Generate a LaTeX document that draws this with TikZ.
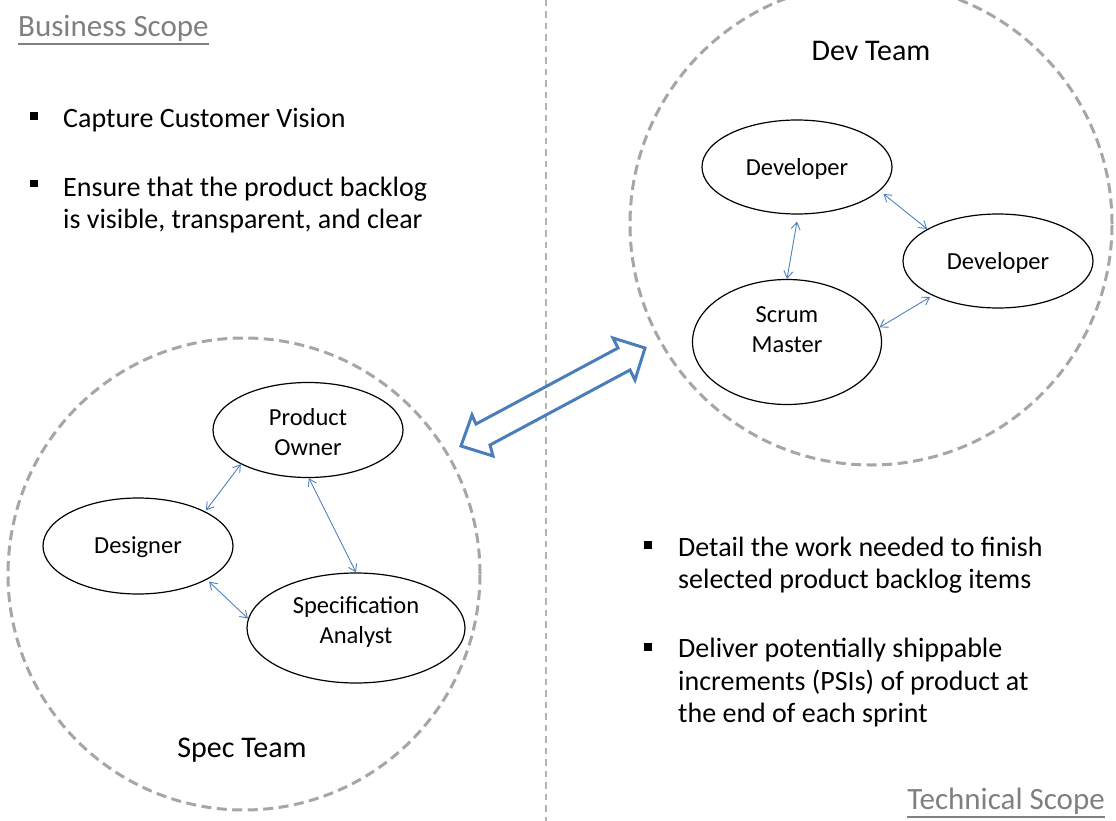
\documentclass[tikz,border=0pt]{standalone}
\usepackage{fontspec}
\setmainfont{Carlito}
\usetikzlibrary{arrows.meta,shapes.geometric}
\definecolor{arrowblue}{RGB}{79,129,189}
\definecolor{bigblue}{RGB}{74,126,187}
\definecolor{dashgray}{RGB}{166,166,166}
\definecolor{divgray}{RGB}{178,178,178}
\definecolor{headgray}{RGB}{128,128,128}
\begin{document}
\begin{tikzpicture}[x=1pt,y=-1pt,
  team/.style={circle, draw=dashgray, line width=3pt, dash pattern=on 10pt off 5.5pt, inner sep=0},
  role/.style={ellipse, draw=black, line width=1.2pt, inner sep=0},
  roletext/.style={align=center, font=\fontsize{24.5}{30}\selectfont, inner sep=0},
  teamlabel/.style={font=\fontsize{30}{36}\selectfont, inner sep=0},
  header/.style={font=\fontsize{31}{37}\selectfont, text=headgray, inner sep=0},
  headline/.style={draw=headgray, line width=1.5pt},
  btext/.style={align=left, font=\fontsize{28}{32.5}\selectfont, inner sep=0, anchor=west},
  sq/.style={fill=black, minimum size=7.5pt, inner sep=0},
  link/.style={draw=arrowblue, line width=0.9pt, {Straight Barb[length=7pt,width=9pt]}-{Straight Barb[length=7pt,width=9pt]}},
  divider/.style={draw=divgray, line width=1.5pt, dash pattern=on 6.5pt off 5pt},
  bigarrow/.style={draw=bigblue, line width=3pt, line join=miter}
]
\useasboundingbox (0,0) rectangle (1116,821);
\begin{scope}
\clip (0,0) rectangle (1116,821);

% divider
\coordinate (divtop) at (546,0);
\coordinate (divbot) at (546,821);
\draw[divider] (divtop) -- (divbot);

% team circles
\node[team, minimum size=482pt] (devteam) at (871,224) {};
\node[team, minimum size=472pt] (specteam) at (244,574) {};
\end{scope}

% headers
\node[header, anchor=west] (bs) at (18,28) {Business Scope};
\draw[headline] ([yshift=-2.5pt]bs.south west) -- ([yshift=-2.5pt]bs.south east);
\node[header, anchor=east] (ts) at (1105,801) {Technical Scope};
\draw[headline] ([yshift=-2.5pt]ts.south west) -- ([yshift=-2.5pt]ts.south east);

% team labels
\node[teamlabel] (devlbl) at (871,51) {Dev Team};
\node[teamlabel] (speclbl) at (242,750) {Spec Team};

% dev team roles
\node[role, minimum width=190pt, minimum height=94pt] (dev1) at (797,167) {};
\node[roletext] at (797,169) {Developer};
\node[role, minimum width=190pt, minimum height=94pt] (dev2) at (998,261) {};
\node[roletext] at (998,263) {Developer};
\node[role, minimum width=189pt, minimum height=125pt] (scrum) at (787,342) {};
\node[roletext] at (787,330) {Scrum\\Master};

% spec team roles
\node[role, minimum width=190pt, minimum height=95pt] (po) at (308,430) {};
\node[roletext] at (308,432) {Product\\Owner};
\node[role, minimum width=190pt, minimum height=96pt] (des) at (138,546) {};
\node[roletext] at (138,547) {Designer};
\node[role, minimum width=218pt, minimum height=110pt] (spec) at (356,628) {};
\node[roletext] at (356,622) {Specification\\Analyst};

% links
\draw[link] ([shift={(5pt,-2pt)}]dev1.-17) -- ([shift={(-4pt,-2pt)}]dev2.153);
\draw[link] ([yshift=-7pt]dev1.south) -- (scrum.north);
\draw[link] ([shift={(-1pt,-2pt)}]dev2.-153) -- (scrum.9);
\draw[link] (po.-153) -- ([shift={(-1pt,2pt)}]des.26);
\draw[link] (po.-89) -- (spec.north);
\draw[link] ([shift={(2pt,-2pt)}]des.-26) -- (spec.175);

% big double arrow between teams
\draw[bigarrow] (461,446) -- (472,415) -- (476,424) -- (618,348) -- (613,338) -- (645,348) -- (635,380) -- (630,370) -- (490,445) -- (493,456) -- cycle;

% bullets left
\node[sq] (lb1) at (34,116) {};
\node[btext] (lt1) at (63,120) {Capture Customer Vision};
\node[sq] (lb2) at (34,183.5) {};
\node[btext] (lt2) at (63,205) {Ensure that the product backlog\\is visible, transparent, and clear};

% bullets right
\node[sq] (rb1) at (648,545) {};
\node[btext] (rt1) at (678,565) {Detail the work needed to finish\\selected product backlog items};
\node[sq] (rb2) at (648,647) {};
\node[btext] (rt2) at (678,683) {Deliver potentially shippable\\increments (PSIs) of product at\\the end of each sprint};
\end{tikzpicture}
\end{document}
